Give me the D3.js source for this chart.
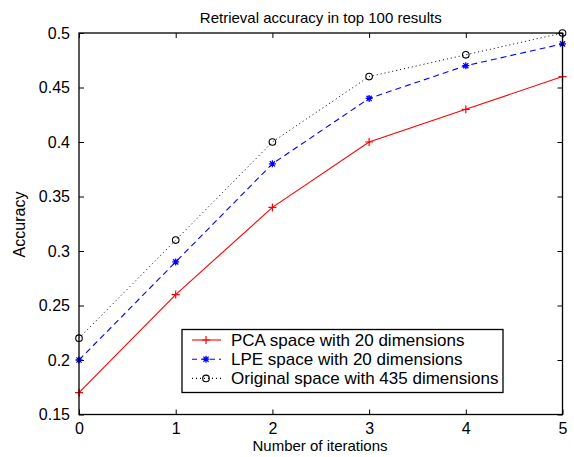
<!DOCTYPE html>
<html>
<head>
<meta charset="utf-8">
<script src="https://cdn.jsdelivr.net/npm/d3@7"></script>
<style>
  body { margin: 0; background: #fff; }
  svg { font-family: "Liberation Sans", Arial, sans-serif; }
</style>
</head>
<body>
<svg id="canvas"></svg>
<script>
"use strict";

const iterations = [0, 1, 2, 3, 4, 5];
const pcaValues = [0.17, 0.26, 0.34, 0.40, 0.43, 0.46];
const lpeValues = [0.20, 0.29, 0.38, 0.44, 0.47, 0.49];
const origValues = [0.22, 0.31, 0.40, 0.46, 0.48, 0.50];
const seriesNames = ["PCA space with 20 dimensions", "LPE space with 20 dimensions", "Original space with 435 dimensions"];
const yTicks = [0.15, 0.2, 0.25, 0.3, 0.35, 0.4, 0.45, 0.5];

let width = 574;
let height = 457;
let plotLeft = 79, plotRight = 562.5, plotTop = 33, plotBottom = 414.5;

let canvas = d3.select('#canvas')
    .attr('width', width)
    .attr('height', height);

let xScale = d3.scaleLinear().domain([0, 5]).range([plotLeft, plotRight]);
let yScale = d3.scaleLinear().domain([0.15, 0.5]).range([plotBottom, plotTop]);

const series = [
    { name: seriesNames[0], values: pcaValues, color: '#ff0000', dash: null, marker: 'plus' },
    { name: seriesNames[1], values: lpeValues, color: '#0000ff', dash: '6,4', marker: 'star' },
    { name: seriesNames[2], values: origValues, color: '#000000', dash: '1,3', marker: 'circle' }
];

// axes with inward ticks
let xAxis = d3.axisBottom(xScale).tickValues(iterations).tickSize(-5).tickPadding(8).tickFormat(d3.format('d'));
let yAxis = d3.axisLeft(yScale).tickValues(yTicks).tickSize(-5).tickPadding(9).tickFormat(d => String(+d.toFixed(2)));
let xTop = d3.axisTop(xScale).tickValues(iterations).tickSize(-5).tickFormat('');
let yRight = d3.axisRight(yScale).tickValues(yTicks).tickSize(-5).tickFormat('');

function styleAxis(g) {
    g.select('.domain').remove();
    g.selectAll('line').attr('stroke', '#000').attr('stroke-width', 1);
    g.selectAll('text').attr('font-size', 16).attr('fill', '#000')
        .attr('font-family', '"Liberation Sans", Arial, sans-serif');
}

canvas.append('g').attr('transform', 'translate(0,' + plotBottom + ')').call(xAxis).call(styleAxis);
canvas.append('g').attr('transform', 'translate(' + plotLeft + ',0)').call(yAxis).call(styleAxis);
canvas.append('g').attr('transform', 'translate(0,' + plotTop + ')').call(xTop).call(styleAxis);
canvas.append('g').attr('transform', 'translate(' + plotRight + ',0)').call(yRight).call(styleAxis);

let line = d3.line()
    .x((d, i) => xScale(iterations[i]))
    .y(d => yScale(d));

function drawMarker(g, type, x, y, color) {
    if (type === 'plus') {
        g.append('path').attr('d', `M${x-4},${y}H${x+4}M${x},${y-4}V${y+4}`)
            .attr('stroke', color).attr('stroke-width', 1.2);
    } else if (type === 'star') {
        g.append('path').attr('d', `M${x-3.5},${y}H${x+3.5}M${x},${y-3.5}V${y+3.5}M${x-2.6},${y-2.6}L${x+2.6},${y+2.6}M${x-2.6},${y+2.6}L${x+2.6},${y-2.6}`)
            .attr('stroke', color).attr('stroke-width', 1.3);
    } else {
        g.append('circle').attr('cx', x).attr('cy', y).attr('r', 3.3)
            .attr('fill', 'none').attr('stroke', color).attr('stroke-width', 1.1);
    }
}

series.forEach(s => {
    canvas.append('path')
        .datum(s.values)
        .attr('d', line)
        .attr('fill', 'none')
        .attr('stroke', s.color)
        .attr('stroke-width', s.marker === 'circle' ? 1 : 1.1)
        .attr('stroke-dasharray', s.dash);
    let mg = canvas.append('g');
    s.values.forEach((v, i) => drawMarker(mg, s.marker, xScale(iterations[i]), yScale(v), s.color));
});

// frame
canvas.append('rect')
    .attr('x', plotLeft).attr('y', plotTop)
    .attr('width', plotRight - plotLeft).attr('height', plotBottom - plotTop)
    .attr('fill', 'none').attr('stroke', '#000').attr('stroke-width', 1.3);

// legend
let legend = canvas.append('g');
legend.append('rect')
    .attr('x', 182).attr('y', 329.5).attr('width', 321).attr('height', 63)
    .attr('fill', '#fff').attr('stroke', '#000').attr('stroke-width', 1.3);
series.forEach((s, i) => {
    let y = 340 + i * 19.2;
    legend.append('line')
        .attr('x1', 192).attr('x2', 221).attr('y1', y).attr('y2', y)
        .attr('stroke', s.color).attr('stroke-width', 1.1)
        .attr('stroke-dasharray', s.dash === '6,4' ? '5,4' : s.dash);
    drawMarker(legend, s.marker, 206, y, s.color);
    legend.append('text')
        .attr('x', 231).attr('y', y + 6)
        .attr('font-size', 17)
        .text(s.name);
});

// titles
canvas.append('text')
    .attr('x', (plotLeft + plotRight) / 2).attr('y', 23)
    .attr('text-anchor', 'middle').attr('font-size', 15)
    .text('Retrieval accuracy in top 100 results');
canvas.append('text')
    .attr('x', 320).attr('y', 451)
    .attr('text-anchor', 'middle').attr('font-size', 15)
    .text('Number of iterations');
canvas.append('text')
    .attr('transform', 'translate(25,224.5) rotate(-90)')
    .attr('text-anchor', 'middle').attr('font-size', 16)
    .text('Accuracy');
</script>
</body>
</html>
